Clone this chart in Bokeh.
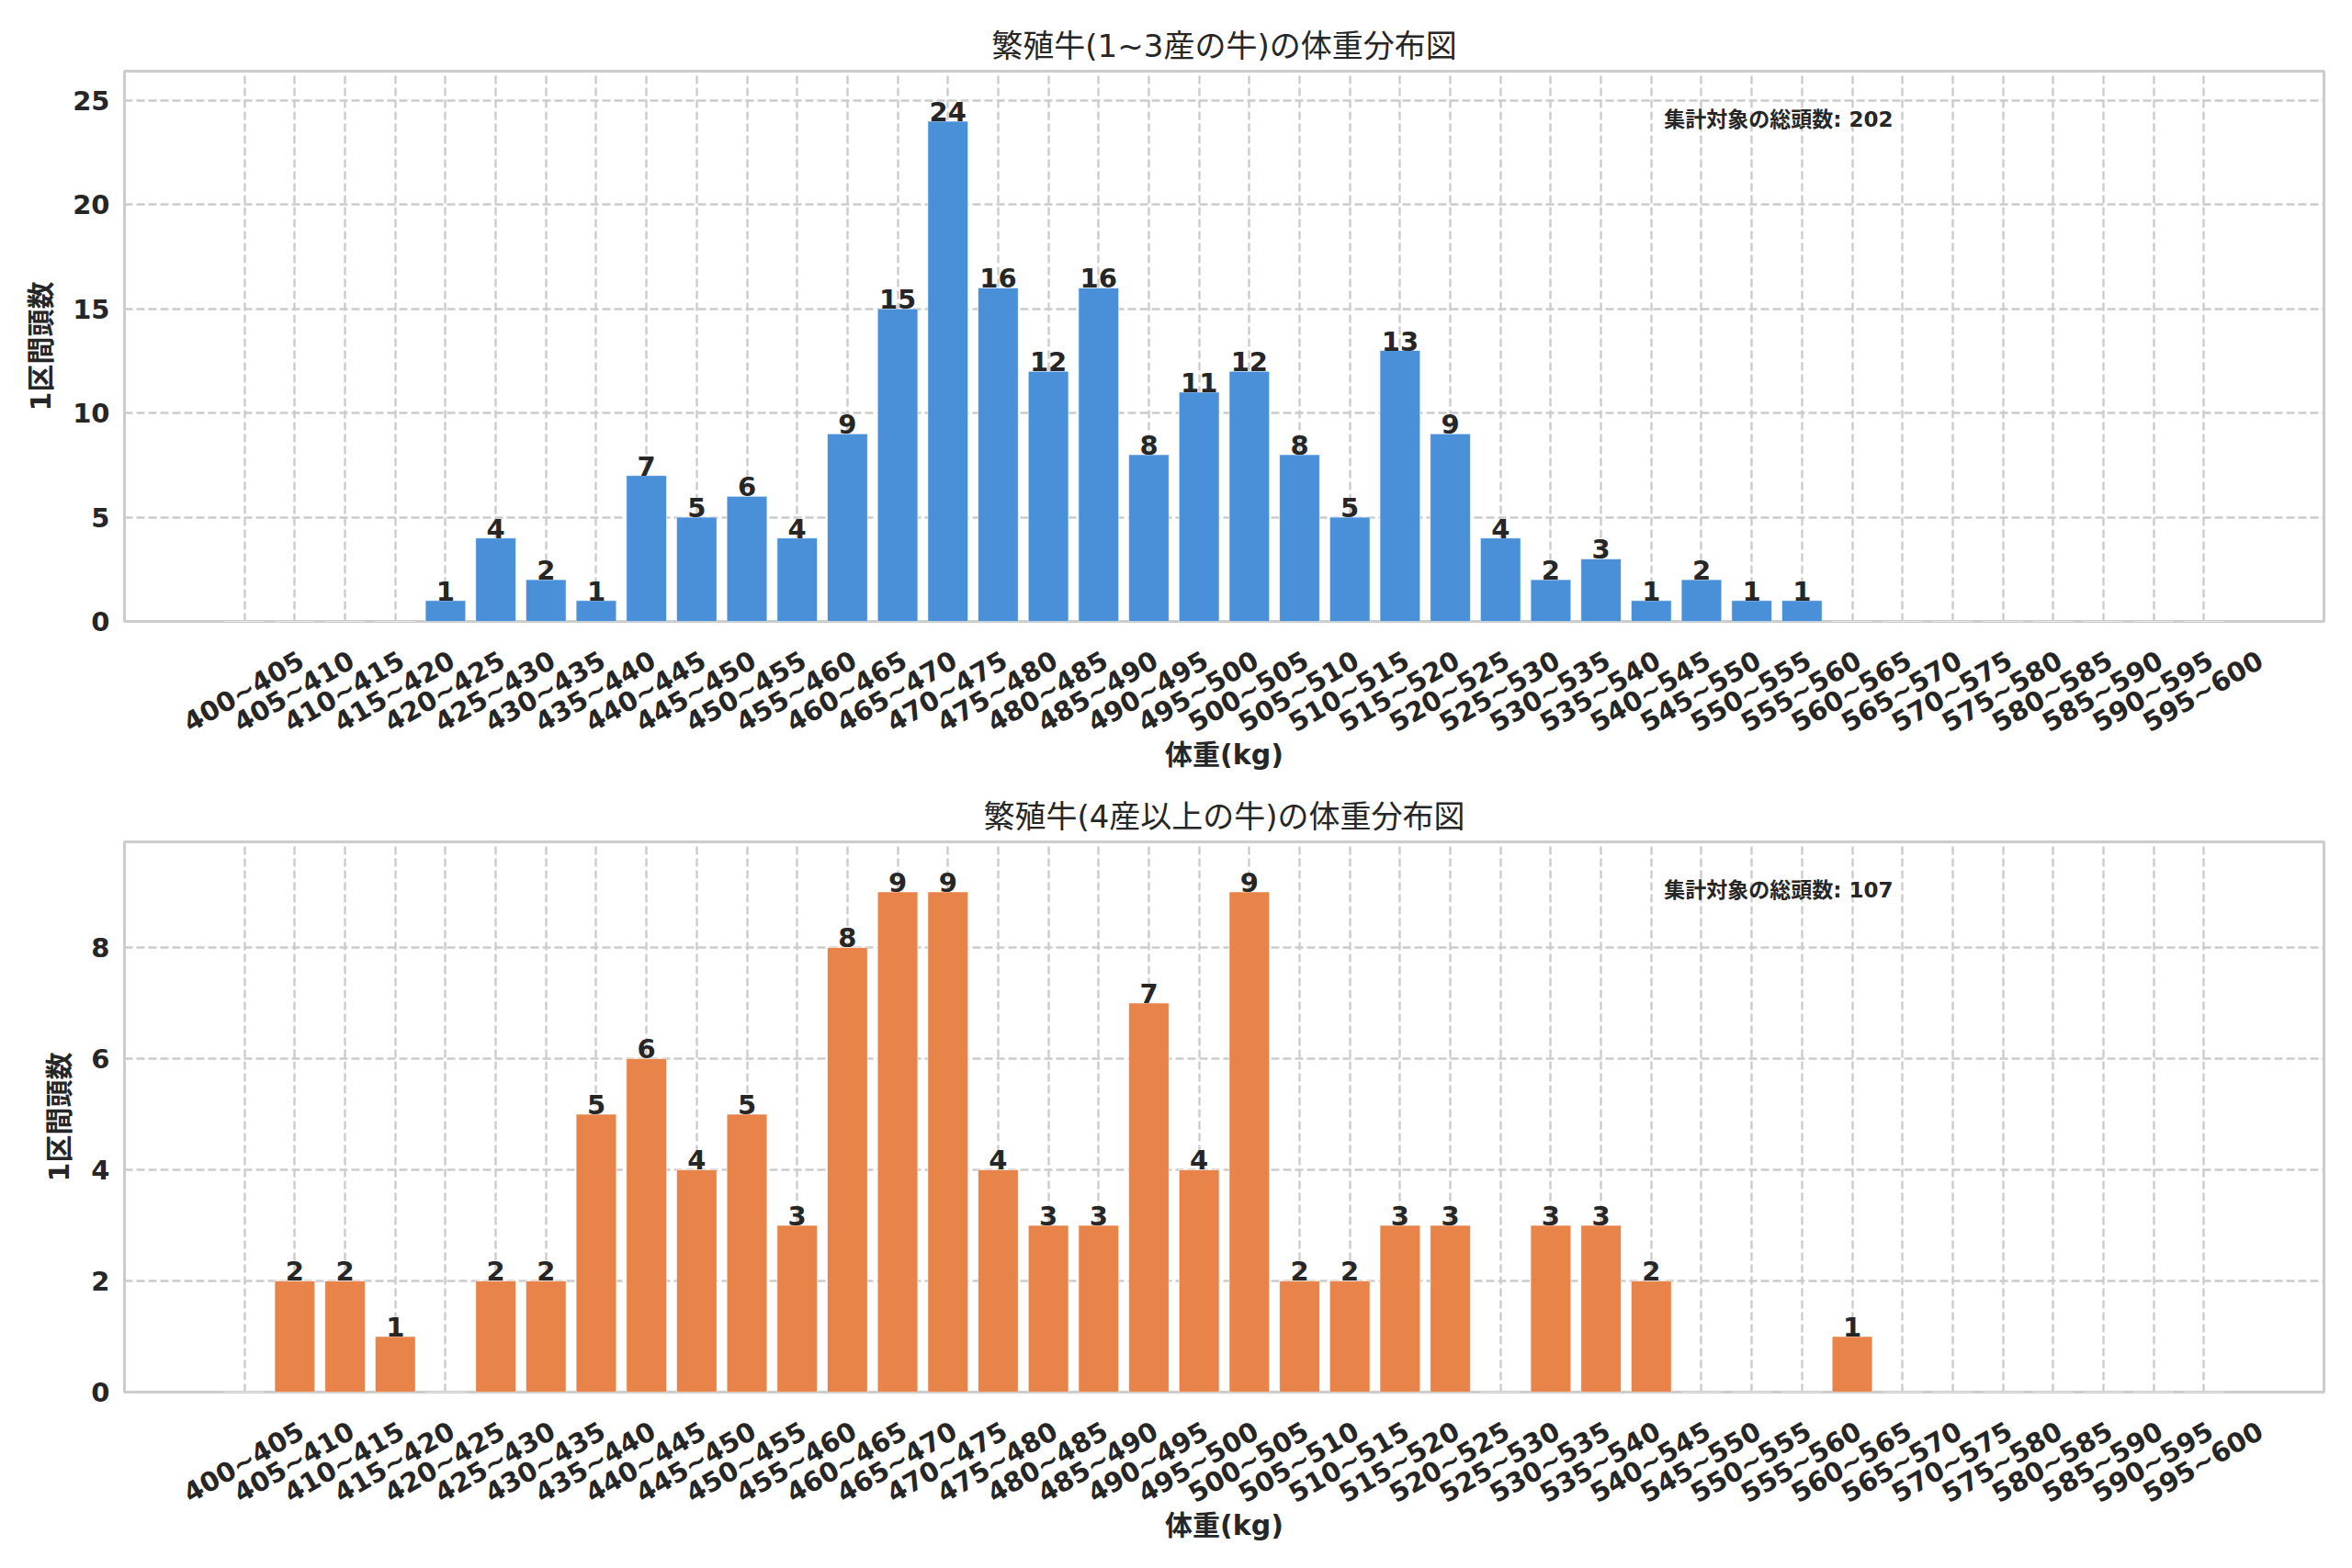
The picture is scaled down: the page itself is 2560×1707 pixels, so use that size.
from math import pi

from bokeh.core.properties import value
from bokeh.embed import file_html
from bokeh.layouts import column
from bokeh.models import (ColumnDataSource, FixedTicker, Label, LabelSet,
                          Range1d, SingleIntervalTicker)
from bokeh.plotting import figure
from bokeh.resources import INLINE

# weight bins (tick labels)
bins = [
    "400~405", "405~410", "410~415", "415~420", "420~425", "425~430",
    "430~435", "435~440", "440~445", "445~450", "450~455", "455~460",
    "460~465", "465~470", "470~475", "475~480", "480~485", "485~490",
    "490~495", "495~500", "500~505", "505~510", "510~515", "515~520",
    "520~525", "525~530", "530~535", "535~540", "540~545", "545~550",
    "550~555", "555~560", "560~565", "565~570", "570~575", "575~580",
    "580~585", "585~590", "590~595", "595~600",
]

# counts per bin, parity 1~3
counts_1_3 = [
    0, 0, 0, 0, 1, 4, 2, 1, 7, 5, 6, 4, 9, 15, 24, 16, 12, 16, 8, 11,
    12, 8, 5, 13, 9, 4, 2, 3, 1, 2, 1, 1, 0, 0, 0, 0, 0, 0, 0, 0,
]

# counts per bin, parity 4 and more
counts_4plus = [
    0, 2, 2, 1, 0, 2, 2, 5, 6, 4, 5, 3, 8, 9, 9, 4, 3, 3, 7, 4,
    9, 2, 2, 3, 3, 0, 3, 3, 2, 0, 0, 0, 1, 0, 0, 0, 0, 0, 0, 0,
]

title_1_3 = "繁殖牛(1~3産の牛)の体重分布図"
title_4plus = "繁殖牛(4産以上の牛)の体重分布図"
x_label = "体重(kg)"
y_label = "1区間頭数"
total_text = "集計対象の総頭数"

FONT = "DejaVu Sans, Noto Sans CJK JP"
TEXT_COLOR = "#262626"
FRAME_W = 2394
FRAME_H = 599


def make_hist(title, counts, color, y_interval, height, border_top):
    """one histogram panel"""
    idx = list(range(len(bins)))
    x_start, x_end = -2.39, len(bins) - 1 + 2.39
    ymax = max(counts) * 1.1

    p = figure(
        width=2552,
        height=height,
        output_backend="svg",
        toolbar_location=None,
        x_range=Range1d(x_start, x_end),
        y_range=Range1d(0, ymax),
        min_border_left=135,
        min_border_right=23,
        min_border_top=border_top,
        min_border_bottom=height - border_top - FRAME_H,
        background_fill_color="white",
        border_fill_color="white",
    )

    p.title.text = title
    p.title.align = "center"
    p.title.text_font = FONT
    p.title.text_font_size = "34px"
    p.title.text_font_style = "normal"
    p.title.text_color = TEXT_COLOR
    p.title.standoff = 16

    # bars
    src = ColumnDataSource(dict(x=idx, top=counts))
    p.vbar(x="x", top="top", width=0.8, source=src, fill_color=color,
           line_color="white", line_alpha=0.6, line_width=1)

    # value labels on top of bars
    lab_src = ColumnDataSource(dict(
        x=[i for i, c in zip(idx, counts) if c],
        y=[c for c in counts if c],
        text=[str(c) for c in counts if c],
    ))
    p.add_layout(LabelSet(x="x", y="y", text="text", source=lab_src,
                          text_align="center", text_baseline="alphabetic",
                          text_font=value(FONT), text_font_size="29px",
                          text_font_style="bold", text_color=TEXT_COLOR))

    # total count note
    p.add_layout(Label(x=x_start + 0.7 * (x_end - x_start), y=ymax * 0.913,
                       text=f"{total_text}: {sum(counts)}",
                       text_baseline="middle", text_font=FONT,
                       text_font_size="23px", text_font_style="bold",
                       text_color=TEXT_COLOR))

    # rotated labels are right-anchored in bokeh: move the label ticks so
    # that each label ends up centred on its bar
    shift = 62 / (FRAME_W / (x_end - x_start))
    label_pos = [round(i + shift, 4) for i in idx]
    p.xaxis.ticker = FixedTicker(ticks=label_pos)
    p.xaxis.major_label_overrides = dict(zip(label_pos, bins))
    p.xaxis.major_label_orientation = pi / 6
    p.xaxis.major_label_standoff = 40
    p.xgrid.ticker = FixedTicker(ticks=idx)
    p.xaxis.axis_label = x_label
    p.xaxis.axis_label_standoff = -18

    p.yaxis.ticker = SingleIntervalTicker(interval=y_interval)
    p.yaxis.major_label_standoff = 12
    p.yaxis.axis_label = y_label
    p.yaxis.axis_label_standoff = 14

    for ax in (p.xaxis, p.yaxis):
        ax.axis_line_color = None
        ax.major_tick_line_color = None
        ax.minor_tick_line_color = None
        ax.major_tick_out = 0
        ax.major_label_text_font = FONT
        ax.major_label_text_font_size = "29px"
        ax.major_label_text_font_style = "bold"
        ax.major_label_text_color = TEXT_COLOR
        ax.axis_label_text_font = FONT
        ax.axis_label_text_font_size = "30px"
        ax.axis_label_text_font_style = "bold"
        ax.axis_label_text_color = TEXT_COLOR

    # grid
    for g in (p.xgrid, p.ygrid):
        g.grid_line_color = "#cccccc"
        g.grid_line_dash = "9 4"
        g.grid_line_width = 2.4

    p.outline_line_color = "#cccccc"
    p.outline_line_width = 3
    return p


p1 = make_hist(title_1_3, counts_1_3, "#4a90d9", 5, 849, 77)
p2 = make_hist(title_4plus, counts_4plus, "#e8834a", 2, 849, 67)

p = column(p1, p2)
open("out.html", "w").write(file_html(p, INLINE))
